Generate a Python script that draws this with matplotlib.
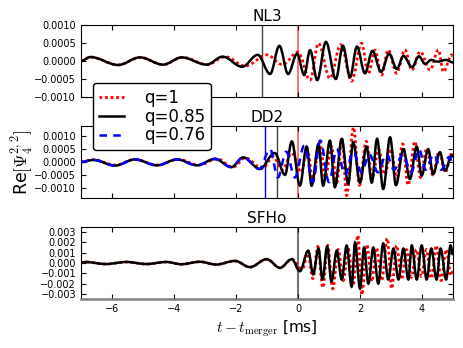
import matplotlib
matplotlib.use('Agg')
import matplotlib.pyplot as plt
from matplotlib.ticker import FuncFormatter
from matplotlib.path import Path
from matplotlib.patches import PathPatch
from matplotlib.lines import Line2D

plt.rcParams['xtick.direction'] = 'in'
plt.rcParams['ytick.direction'] = 'in'
plt.rcParams['xtick.top'] = True
plt.rcParams['ytick.right'] = True
plt.rcParams['xtick.major.size'] = 3.5
plt.rcParams['ytick.major.size'] = 3.5
plt.rcParams['font.family'] = 'DejaVu Sans'
plt.rcParams['mathtext.fontset'] = 'cm'

# waveform extrema: time [ms], Re[Psi4] value
# NL3
nl3_q1_t = [-7.0, -6.7, -5.8, -5.1, -4.35, -3.72, -2.92, -2.35, -1.7, -1.0, -0.5, 0.0,
            0.39, 0.66, 1.03, 1.38, 1.73, 2.05, 2.27, 2.48, 2.7, 2.91, 3.18, 3.45, 3.67,
            3.94, 4.26, 4.53, 4.69, 4.96, 5.0]
nl3_q1_v = [0.0, 0.00011, -0.00011, 0.0001, -0.0001, 0.0001, -0.0001, 0.00012, -0.00014,
            0.00017, -0.0001, 0.00025, -0.00053, 0.00049, -0.00048, 0.00045, -0.00056,
            0.00049, -0.00035, 0.0003, -0.00039, 0.00031, -0.00034, 0.00031, -0.00025,
            0.00026, -0.00025, 0.00031, -0.0003, 0.00017, 0.0001]
nl3_q085_t = [-7.0, -6.7, -5.8, -5.1, -4.35, -3.75, -2.95, -2.43, -1.8, -1.3, -0.9, -0.6,
              -0.32, -0.03, 0.2, 0.39, 0.62, 0.9, 1.22, 1.45, 1.68, 1.9, 2.16, 2.4, 2.68,
              2.94, 3.19, 3.4, 3.68, 3.9, 4.1, 4.3, 4.5, 4.77, 5.0]
nl3_q085_v = [0.0, 0.00011, -0.00011, 0.0001, -0.0001, 0.0001, -0.0001, 0.00012, -0.00016,
              0.00017, -0.00036, 0.00042, -0.00036, 0.0002, -0.00039, 0.0003, -0.00053,
              0.00053, -0.0005, 0.00042, -0.00045, 0.0004, -0.00034, 0.00028, -0.0003,
              0.0002, -0.00022, 0.00014, -0.00017, 0.00013, -0.00008, 0.00003, -0.00002,
              0.00003, -0.00004]

# DD2
dd2_q1_t = [-7.0, -6.6, -5.9, -5.26, -4.55, -3.85, -3.2, -2.6, -2.1, -1.7, -1.15, -0.8,
            -0.5, -0.2, 0.1, 0.3, 0.48, 0.7, 0.88, 1.08, 1.25, 1.42, 1.57, 1.79, 1.98,
            2.2, 2.4, 2.6, 2.8, 3.0, 3.18, 3.38, 3.55, 3.77, 3.95, 4.15, 4.35, 4.55,
            4.75, 4.95, 5.0]
dd2_q1_v = [0.0, 0.00009, -0.00012, 0.0001, -0.00012, 0.0001, -0.00012, 0.00012, -0.0002,
            0.00016, -0.00025, 0.0002, -0.0003, 0.00035, -0.0004, 0.0005, -0.0007,
            0.0008, -0.0006, 0.0006, -0.0008, 0.0009, -0.0013, 0.00135, -0.0009, 0.0008,
            -0.0006, 0.0005, -0.0005, 0.0005, -0.0006, 0.0007, -0.0009, 0.0008, -0.0006,
            0.0005, -0.0005, 0.0004, -0.0004, 0.0003, 0.0002]
dd2_q085_t = [-7.0, -6.6, -5.9, -5.26, -4.55, -3.9, -3.26, -2.68, -2.15, -1.77, -1.23,
              -0.75, -0.42, -0.2, 0.06, 0.28, 0.44, 0.66, 0.81, 1.03, 1.19, 1.41, 1.62,
              1.78, 2.0, 2.21, 2.38, 2.55, 2.75, 2.97, 3.16, 3.4, 3.61, 3.83, 3.99, 4.2,
              4.36, 4.58, 4.74, 4.96, 5.0]
dd2_q085_v = [0.0, 0.00008, -0.00014, 0.0001, -0.00013, 0.0001, -0.00013, 0.00012, -0.0002,
              0.00018, -0.00027, 0.00035, -0.0005, 0.0008, -0.00092, 0.0006, -0.00092,
              0.0007, -0.00092, 0.00083, -0.00098, 0.0009, -0.00086, 0.00077, -0.0008,
              0.0006, -0.0008, 0.0009, -0.00105, 0.00096, -0.0009, 0.0005, -0.00066,
              0.0006, -0.00053, 0.0005, -0.00047, 0.00038, -0.00034, 0.00025, 0.0002]
dd2_q076_t = [-7.0, -6.6, -5.9, -5.26, -4.55, -3.9, -3.26, -2.68, -2.15, -1.77, -1.25,
              -0.9, -0.65, -0.38, -0.1, 0.2, 0.48, 0.72, 1.0, 1.25, 1.52, 1.78, 2.05,
              2.3, 2.58, 2.85, 3.1, 3.38, 3.65, 3.9, 4.12, 4.38, 4.62, 4.88, 5.0]
dd2_q076_v = [0.0, 0.00008, -0.00014, 0.0001, -0.00013, 0.0001, -0.00013, 0.00012, -0.0002,
              0.00018, -0.00027, 0.0005, -0.0006, 0.0004, -0.0006, 0.00063, -0.00078,
              0.00083, -0.00078, 0.0005, -0.0005, 0.0004, -0.0004, 0.0003, -0.0004,
              0.0003, -0.0003, 0.0003, -0.0004, 0.0005, -0.0003, 0.0003, -0.0003, 0.0002,
              -0.0001]

# SFHo
sfho_q1_t = [-7.0, -6.87, -6.2, -5.53, -4.9, -4.24, -3.77, -3.16, -2.64, -2.03, -1.55,
             -1.01, -0.58, -0.2, 0.14, 0.32, 0.48, 0.64, 0.8, 0.96, 1.12, 1.3, 1.46, 1.62,
             1.78, 1.93, 2.06, 2.22, 2.38, 2.53, 2.7, 2.88, 3.02, 3.18, 3.34, 3.5, 3.66,
             3.82, 3.98, 4.14, 4.3, 4.46, 4.62, 4.78, 4.94, 5.0]
sfho_q1_v = [0.0, 0.0001, -0.0001, 0.0001, -0.0001, 0.0001, -0.00012, 0.00012, -0.00015,
             0.0002, -0.0004, 0.00037, -0.00047, 0.00037, -0.0006, 0.0009, -0.0015,
             0.0016, -0.0024, 0.0017, -0.0025, 0.0013, -0.0017, 0.0014, -0.0022, 0.0027,
             -0.0031, 0.0018, -0.0018, 0.0015, -0.0017, 0.0024, -0.0025, 0.0017, -0.0016,
             0.0013, -0.0014, 0.0013, -0.0013, 0.0013, -0.0015, 0.0017, -0.0017, 0.0013,
             -0.0012, -0.0008]
sfho_q085_t = [-7.0, -6.87, -6.2, -5.53, -4.9, -4.24, -3.77, -3.16, -2.64, -2.03, -1.55,
               -1.01, -0.58, -0.2, 0.06, 0.33, 0.49, 0.66, 0.79, 0.94, 1.08, 1.25, 1.41,
               1.57, 1.73, 1.84, 2.0, 2.13, 2.27, 2.43, 2.59, 2.75, 2.91, 3.08, 3.24, 3.4,
               3.56, 3.67, 3.83, 3.99, 4.15, 4.3, 4.47, 4.6, 4.78, 4.92, 5.0]
sfho_q085_v = [0.0, 0.0001, -0.0001, 0.0001, -0.0001, 0.0001, -0.00012, 0.00012, -0.00015,
               0.0002, -0.0004, 0.00037, -0.00047, 0.00037, -0.0008, 0.0012, -0.0011,
               0.0014, -0.0016, 0.0016, -0.0018, 0.0012, -0.0016, 0.0017, -0.0023, 0.002,
               -0.0025, 0.0015, -0.002, 0.0015, -0.002, 0.0019, -0.0016, 0.0014, -0.0016,
               0.0014, -0.0016, 0.0017, -0.0016, 0.0017, -0.0016, 0.0014, -0.0016, 0.0014,
               -0.0016, 0.0017, 0.0008]

# merger times [ms]
merger_nl3 = {'q1': 0.0, 'q085': -1.16}
merger_dd2 = {'q1': 0.0, 'q085': -0.68, 'q076': -1.06}
merger_sfho = {'q1': 0.0, 'q085': 0.0}

titles = ['NL3', 'DD2', 'SFHo']
labels = ['q=1', 'q=0.85', 'q=0.76']

styles = {'q1': dict(color='r', ls=(0, (1, 1)), lw=2.0),
          'q085': dict(color='k', ls='-', lw=1.8),
          'q076': dict(color='b', ls=(0, (3, 2.5)), lw=1.8)}


def wave(ax, t, v, key):
    # smooth curve through the extrema (flat tangents at each extremum)
    verts = [(t[0], v[0])]
    codes = [Path.MOVETO]
    for i in range(len(t) - 1):
        dt = t[i + 1] - t[i]
        verts += [(t[i] + 0.36 * dt, v[i]), (t[i + 1] - 0.36 * dt, v[i + 1]), (t[i + 1], v[i + 1])]
        codes += [Path.CURVE4] * 3
    st = styles[key]
    p = PathPatch(Path(verts, codes), fill=False, edgecolor=st['color'],
                  linestyle=st['ls'], lw=st['lw'], zorder=3, capstyle='butt')
    ax.add_patch(p)


def fmt(decimals):
    def f(v, pos):
        s = ('%.' + str(decimals) + 'f') % v
        if float(s) == 0:
            s = s.lstrip('-')
        return s.replace('-', '\u2212')
    return FuncFormatter(f)


fig = plt.figure(figsize=(4.63, 3.48), dpi=100)
left = 81 / 463.
width = 372 / 463.
h = 72 / 348.
ax1 = fig.add_axes([left, 1 - 97 / 348., width, h])
ax2 = fig.add_axes([left, 1 - 198 / 348., width, h])
ax3 = fig.add_axes([left, 1 - 299 / 348., width, h])

# NL3
ax1.axvline(merger_nl3['q085'], color='k', alpha=0.75, lw=1, zorder=1)
ax1.axvline(merger_nl3['q1'], color='r', alpha=0.55, lw=1.4, zorder=1)
wave(ax1, nl3_q1_t, nl3_q1_v, 'q1')
wave(ax1, nl3_q085_t, nl3_q085_v, 'q085')
ax1.set_ylim(-0.001, 0.001)
ax1.set_yticks([-0.001, -0.0005, 0, 0.0005, 0.001])
ax1.yaxis.set_major_formatter(fmt(4))

# DD2
ax2.axvline(merger_dd2['q076'], color='b', lw=1, zorder=1)
ax2.axvline(merger_dd2['q085'], color='k', alpha=0.75, lw=1, zorder=1)
ax2.axvline(merger_dd2['q1'], color='r', alpha=0.55, lw=1.4, zorder=1)
wave(ax2, dd2_q1_t, dd2_q1_v, 'q1')
wave(ax2, dd2_q085_t, dd2_q085_v, 'q085')
wave(ax2, dd2_q076_t, dd2_q076_v, 'q076')
ax2.set_ylim(-0.0014, 0.0014)
ax2.set_yticks([-0.001, -0.0005, 0, 0.0005, 0.001])
ax2.yaxis.set_major_formatter(fmt(4))

# SFHo
ax3.axvline(merger_sfho['q1'], color='0.45', lw=1.5, zorder=1)
wave(ax3, sfho_q1_t, sfho_q1_v, 'q1')
wave(ax3, sfho_q085_t, sfho_q085_v, 'q085')
ax3.set_ylim(-0.0035, 0.0035)
ax3.set_yticks([-0.003, -0.002, -0.001, 0, 0.001, 0.002, 0.003])
ax3.yaxis.set_major_formatter(fmt(3))
ax3.spines['bottom'].set_color('0.5')
ax3.spines['bottom'].set_linewidth(1.8)

for ax, title in zip([ax1, ax2, ax3], titles):
    ax.set_xlim(-7, 5)
    ax.set_xticks([-6, -4, -2, 0, 2, 4])
    ax.xaxis.set_major_formatter(fmt(0))
    ax.tick_params(labelsize=7)
    ax.set_title(title, fontsize=11, pad=3)
for ax in [ax1, ax2]:
    ax.set_xticklabels([])

ax3.set_xlabel(r'$t-t_{\rm merger}$ [ms]', fontsize=11, labelpad=3)
fig.text(0.048, 1 - 162 / 348., r'Re$[\Psi_4^{2,2}]$', rotation=90, fontsize=12.5,
         ha='center', va='center')

handles = [Line2D([], [], color=styles[k]['color'], ls=styles[k]['ls'], lw=styles[k]['lw'])
           for k in ['q1', 'q085', 'q076']]
leg = fig.legend(handles, labels, loc='upper left',
                 bbox_to_anchor=(93 / 463., 1 - 83 / 348.), fontsize=12,
                 handlelength=1.5, handletextpad=1.2, labelspacing=0.05,
                 borderpad=0.35, borderaxespad=0, fancybox=True, framealpha=1,
                 edgecolor='k')
leg.get_frame().set_linewidth(1)

fig.savefig('out.png', dpi=100)
